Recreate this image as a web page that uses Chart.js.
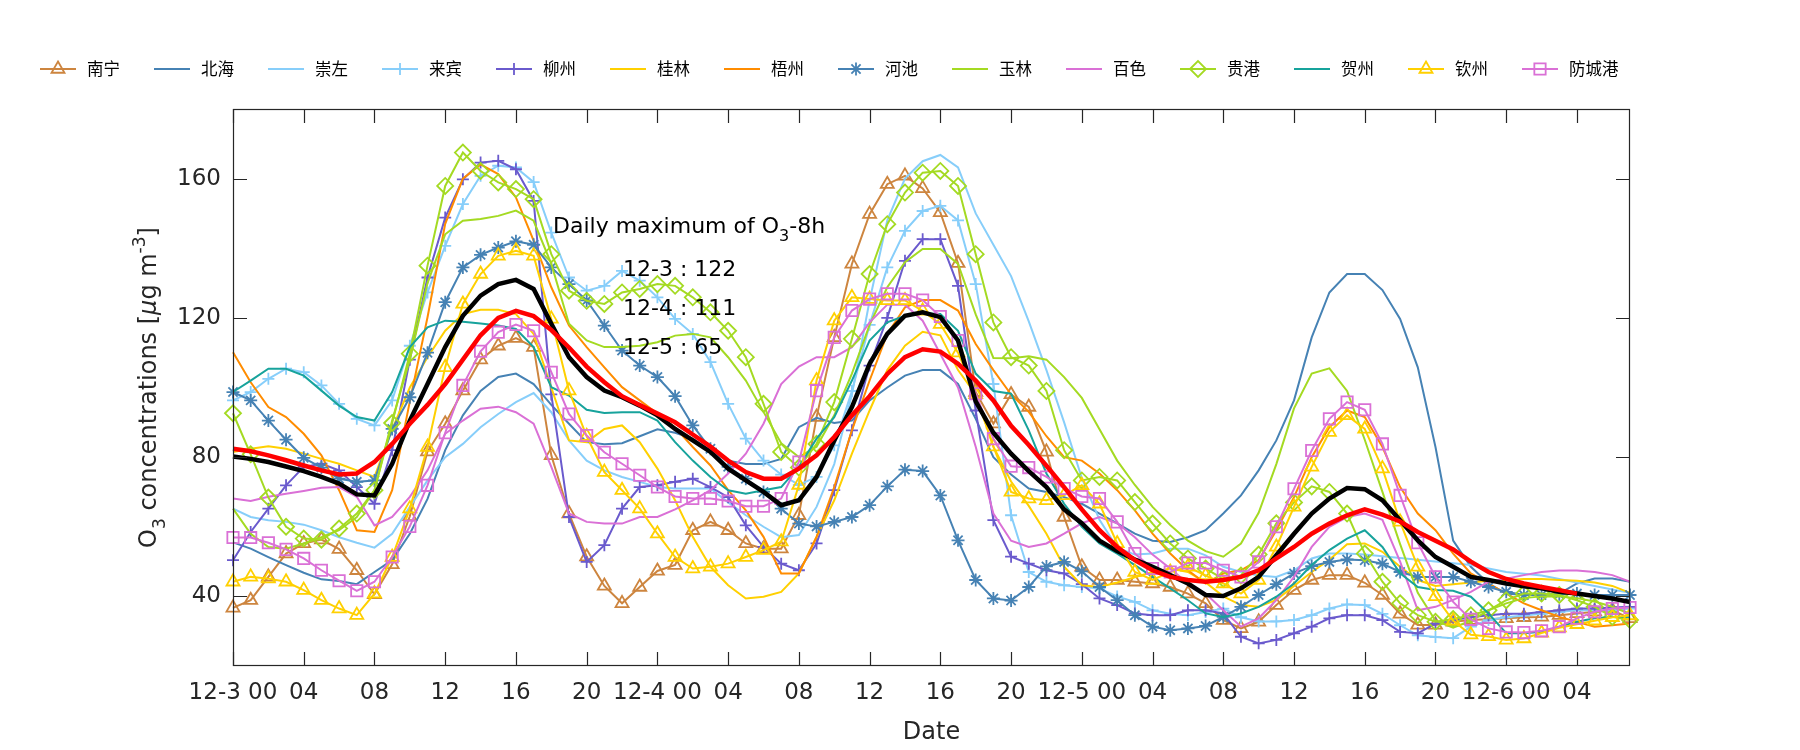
<!DOCTYPE html>
<html><head><meta charset="utf-8">
<script src="https://cdn.jsdelivr.net/npm/chart.js"></script>
<style>html,body{margin:0;padding:0;background:#fff;}#wrap{width:1800px;height:750px;}</style>
</head><body><div id="wrap"><canvas id="c" width="1800" height="750"></canvas></div>
<script>
const hours = [0,1,2,3,4,5,6,7,8,9,10,11,12,13,14,15,16,17,18,19,20,21,22,23,24,25,26,27,28,29,30,31,32,33,34,35,36,37,38,39,40,41,42,43,44,45,46,47,48,49,50,51,52,53,54,55,56,57,58,59,60,61,62,63,64,65,66,67,68,69,70,71,72,73,74,75,76,77,78,79];
const tickHours = [0,4,8,12,16,20,24,28,32,36,40,44,48,52,56,60,64,68,72,76];
const tickLabels = ['12-3 00','04','08','12','16','20','12-4 00','04','08','12','16','20','12-5 00','04','08','12','16','20','12-6 00','04'];
const yTicks = [40,80,120,160];
const stations = ['南宁','北海','崇左','来宾','柳州','桂林','梧州','河池','玉林','百色','贵港','贺州','钦州','防城港'];

const nanning = [36.7,38.9,45.6,52.3,55.2,56.3,53.6,47.5,40.6,49.2,63,81.6,89.6,99.1,108,112,114.2,111.6,80.5,63.8,51.4,43,38,42.7,47.3,49,59,61.4,59,55.2,53.7,53.7,63.3,91.5,114.4,135.5,149.8,158.4,160.8,157.2,150.3,135.7,98.7,89.6,98,94.4,81.5,62.8,48.5,44.7,44.7,44.2,43.7,42.7,40.8,38,33.2,30.8,32.7,37.5,41.8,44.7,46.1,46.1,43.9,40.4,35,31.8,31.8,32.7,33.2,33.4,33.7,34,34.1,34.6,35.1,35.6,36,33.7];
const beihai = [55.5,53.7,51.3,49,46.8,44.9,44.4,43.5,47,50.4,58,68,82,92,99,103,104,101,95,89.6,84.3,83.7,84,86,88,87,85.3,82,79,78,78,79.5,88.6,91.3,89.8,90.5,96.3,100,103.4,105,105,101,91,80,75,71,70,68.5,66.6,63.8,61,58,56,55.6,57,59,63.8,69,76.2,84.8,96.3,114.4,127.3,132.6,132.6,128,119.7,105.8,82.9,56,48.5,43.7,40.8,40.4,40.4,40.8,43.7,45.1,45.1,44.2];
const chongzuo = [65.2,62.8,61.9,61.4,60.6,59,57,55.4,54,58,65.7,73.3,80,83.8,88.6,92.4,95.8,98.4,92.9,84.8,79,76.2,74.3,72.9,71.4,71,71,71,67,63.3,60,57,57.6,65.7,78,98,125,148,160,165,166.8,163.2,150,141,132,119,105,90,74,62,54,52,52.3,53.7,53.7,51.8,48.5,47,46,45.6,47.5,50.9,52.3,52.3,52,51.5,51,50.5,50,49.5,49,48,47,46.5,46,45,44,43,42,41];
const laibin = [96.3,98.7,102.5,105.4,104.4,100.6,95.3,91,89.1,96.3,112,127.3,140.7,152.7,160.8,163.7,163.2,159,144.5,131.6,127.8,129.2,133.5,130.7,125.9,119.7,115.4,107.3,95.3,85.3,79,75,72,74.3,83.4,99,118,134.5,145,150.7,152.2,148,129.7,101,63.3,47,44.2,43.2,42.7,42.3,40,38.4,36,35,34.6,35.5,36.5,34,32.8,32.8,33.2,34.6,36.5,37.7,37.5,35,31.7,28.8,28.3,28,31.3,33.2,34,34.5,35,35.5,36,36,36,36.5];
const liuzhou = [50.4,58.5,65.2,71.9,77.2,78.1,76.2,71.4,66.6,82,108,131.6,148.8,159.8,164.6,165.1,162.7,153.6,98,62.8,49.9,54.7,65.2,71.4,71.9,72.9,73.8,71.4,68.5,60.4,54.2,49.4,47.5,55.2,70.5,87.7,106.3,120,136.4,142.6,142.6,129.2,93.4,61.9,51.4,49.4,47.5,46.6,43.5,39.4,37.5,35.1,34.6,34.6,36,36,35.1,28.4,26.5,27.5,29.4,31.3,33.7,34.6,34.6,33.2,29.8,29.4,32.2,33.2,34,34.6,35,35,35.5,36,36.5,36.5,36.8,37];
const guilin = [81.5,82.4,83.1,82.4,81,79.5,78.1,76.2,74.3,88,100,108.7,116.3,121.1,122.3,122.3,121.1,115.4,100,84.8,84.3,88.1,89.1,84.3,76.7,67.6,57.1,48.5,43.2,39.4,39.9,41.3,46.6,57.1,67.6,81,93.4,105,112,116,115,105,98,83,73,66,58,48.5,43.2,42.7,44,45.5,47,48,47,44,40,37.5,37,39,43,47,50.5,55,55.2,52.8,48.5,44.7,43,43.5,44,44.5,44.7,45,45,44.7,44.5,44,43,41];
const wuzhou = [110.1,101.5,94.4,91.5,86.7,80.5,70.5,59,58.5,70.5,96,120.2,147,160,164.1,161.3,154.6,142.2,128.8,117.8,111.6,105.8,100.1,96.3,92.5,88.5,82.9,77.6,70.5,64.7,57.1,46.6,46.6,57.1,71.4,87.7,102,115.4,123,125.1,125.1,122.1,112.5,105,98,93,86,80,79,75.3,70.5,64.7,58,52.3,47.5,43.7,46.6,47.5,50.4,59,68.5,80,88.6,93.4,91.5,82.9,71.4,63.8,59,52.3,46.6,43.7,40.8,38,36,34.1,32.7,31.3,31.7,32.2];
const hechi = [98.7,96.3,90.5,85,79.8,77,73.8,72.9,73.3,88.1,97.2,110,124.5,134.5,138.1,140.2,142,141,134.5,129.7,125,117.8,110.6,106.3,103,97.5,89.1,82.4,77.2,73.8,70,65.2,60.9,60.1,61.4,62.8,66.2,71.6,76.4,76,69,56.1,44.7,39.4,38.8,42.7,48.6,49.9,47.2,42.7,38.9,34.6,31.3,30.3,30.8,31.5,34.1,37,40.4,43.5,46.6,48.7,49.9,50.6,50.4,49.4,47,45.6,45.6,45.6,44.2,42.7,41.3,40.4,40.4,40.6,40.8,40.4,40.4,40.4];
const yulin = [65.2,58,54.2,53.7,55.2,57,59,62.8,70.5,90.5,108,130,144,147.9,148.4,149.3,150.8,147.9,135.5,118.3,113.5,111.6,111.6,112,113,114.9,115.4,114.4,108.7,102,93,84,80,83,92,104,118,128.8,136,139.8,139.8,135.5,121,108.5,108.4,109,108,103,97,88,79,72,65.7,60.5,56,53,51.4,55.2,64,78,94,104,105.5,99,85,70,55,41,33,31,33,36,38,39.5,40,40,39.5,38.5,37,35];
const baise = [68.1,67.4,68.6,69.5,70.3,71.2,71.4,68.6,60.4,62.8,68.6,76.2,86.7,90.5,93.9,94.5,92.9,89.6,77.2,63.8,61.4,60.9,60.9,62.8,62.8,65,67.6,70.5,75.3,81,89.6,101,106,108.7,108.7,111.6,118.7,123.8,123.8,119.2,109.6,100,83,63.8,56,54.2,55.2,58,61,62.8,61,57,52,48,43.7,40.8,36,31.3,33.7,38.9,45.6,54.2,60,62.8,63.8,62,50,36,37,39,41.3,44.2,45.1,46.1,47,47.4,47.4,47,46.1,44.2];
const guigang = [92.6,80.8,68.4,60,56.6,56.3,59.5,63.8,70.5,89.8,109.7,135,157.9,167.5,162.2,158.9,157,154.1,138.3,127.8,124.9,124,127.3,128.3,129.7,129.2,125.9,121.6,116.3,108.7,95.3,81.5,77,83.8,95.8,114,132.6,146.9,156,161.7,162.2,157.9,138.3,118.7,108.7,106.3,99,82,73.3,74.3,73.3,67.1,60.9,55.2,50.9,48,45,46,52,61,67,71.6,70,63.8,52.3,44.2,38,34.6,32.7,33.5,34.6,36,38.9,40.8,40.8,40.4,38.9,37,34.1,33.2];
const hezhou = [98.7,102,105.4,105.4,103.4,99.1,94.8,91.5,90.5,98.7,111.6,117.3,119.2,118.9,118.4,117.8,116.8,111.6,100.1,97.7,93.6,92.7,92.9,92.9,90.5,84.3,79,74.3,70.5,69.5,70.5,71.4,77.2,85.3,91.5,102,113.5,118.7,120.6,121.3,121.1,116.3,104,99,98.2,87.7,75.3,66.6,60,55.2,52.3,49,45.6,42.3,38.9,35.1,34.1,35.1,37,39.9,43.7,49,53.3,56.6,59,54.2,46.6,42.7,41.8,41.6,39.9,35.1,29.4,29.4,29.8,31.3,32.7,33.7,34.1,34.1];
const qinzhou = [44.2,45.6,45.1,44.2,41.8,38.9,36.5,34.6,40.8,51.3,65.2,82.9,105.8,124,132.6,137.8,139.3,137.8,119.7,99.1,86,75.7,70.5,65.2,58,51.3,48,48.5,49.4,51.3,53.3,55.7,72,102,119.2,125.9,125.4,125,125,122,118.2,110,98,83,70,68.1,67.6,69,71.9,66.6,55.2,47,44.7,47,48.5,46,43.7,40.8,44.7,54.2,65.7,77.2,87.2,92,88.1,76.7,61.4,48.5,40,33,29,28.5,27.5,27.9,29.5,31,32,33,34,34.5];
const fangchenggang = [56.9,56.9,55.4,53.5,50.9,47.5,44.5,41.6,44.2,51.3,60.1,71.9,87,100.6,110.4,115.9,118.1,116.3,104.4,92.4,86.2,81.4,78.1,74.8,71.4,68.7,68.1,68.1,67.4,65.9,65.9,68.1,78.6,99.1,114.4,122.1,125.4,126.9,126.9,125.1,120.4,113.5,98.2,85.3,77.4,77,74.3,71,68.7,68.1,61.4,52.3,48,47,49.6,49.6,47.5,45.6,49.9,60,70.9,81.9,91,95.8,93.6,83.8,69,55.4,45.6,38.4,33.4,30.8,29.8,29.6,30.1,31.3,33.7,35.6,36.5,36.8];
const hourlyMean = [80.2,79.5,78.6,77.3,76,74.3,72.4,69.3,69,78.1,90.5,101,111.6,120.6,126.4,129.7,130.9,128.3,118.3,108.7,103,99.1,97.2,94.8,92,88.1,84.8,81.5,76.7,73.3,70,66.2,67.6,74.3,84.8,94.4,106.8,115.4,120.6,121.6,120.2,113.5,96,87,81,76,71.4,65,61,56,53,50.6,48.5,46.1,43.7,40.4,40.1,42.3,45.6,51.8,58,63.8,68.1,71.1,70.8,67.6,61.9,56.1,51.3,48.5,45.6,44.7,43.7,42.9,42.3,41.3,40.8,40.1,39.4,38.4];
const o3_8h = [82.4,81.7,80.5,79.1,77.6,76.2,75,75.3,78.6,83.8,89.6,95,101,108,115,120,122,120.5,116.5,111.5,106,101.5,97.5,95,92.5,90,86.5,83,79,75.7,73.8,73.8,76.7,80.5,85.8,92,97.5,103.9,108.7,111,110.3,106.8,102,96.3,89,83.5,77.5,71.4,65,59,54.2,50.4,47.5,45.6,44.7,44.2,44.7,45.6,47.5,50.9,54.2,58,60.9,63.3,65,63.5,61.5,58.5,56,53.5,50,47,45,43.7,42.7,41.8,40.8,null,null,null];
const dailyMaxLines = ['12-3 : 122','12-4 : 111','12-5 : 65'];

const seriesData = [nanning,beihai,chongzuo,laibin,liuzhou,guilin,wuzhou,hechi,yulin,baise,guigang,hezhou,qinzhou,fangchenggang];
const colors = ['#CD853F','#4682B4','#87CEFA','#87CEFA','#6A5ACD','#FFD000','#FF8C00','#4682B4','#A4DA22','#DA70D6','#A4DA22','#17A39C','#FFD000','#DA70D6'];
const markers = ['triangle',null,null,'cross','cross',null,null,'star',null,null,'rectRot',null,'triangle','rect'];
const markerR = {triangle:7.5, cross:6, star:6.5, rectRot:8, rect:8};
const FONT = 'DejaVu Sans';

const datasets = stations.map((name,i)=>({
  label:name, data:seriesData[i], borderColor:colors[i], backgroundColor:colors[i],
  borderWidth:2, tension:0, fill:false, clip:false, order:30-i,
  pointStyle:markers[i]||'circle', pointRadius:markers[i]?markerR[markers[i]]:0,
  pointBorderWidth:1.8, pointBorderColor:colors[i], pointBackgroundColor:'rgba(0,0,0,0)',
  pointHoverRadius:markers[i]?markerR[markers[i]]:0
}));
datasets.push({label:'hourly mean', data:hourlyMean, borderColor:'#000000', borderWidth:4.5, pointRadius:0, tension:0, fill:false, clip:false, order:1});
datasets.push({label:'O3-8h', data:o3_8h, borderColor:'#FF0000', borderWidth:4.5, pointRadius:0, tension:0, fill:false, clip:false, order:0});

function drawPieces(ctx, pieces, x, y, align){
  let total=0;
  pieces.forEach(p=>{ctx.font=p.f; p.w=ctx.measureText(p.t).width; total+=p.w;});
  let cx = align==='center' ? x-total/2 : x;
  pieces.forEach(p=>{ctx.font=p.f; ctx.fillText(p.t, cx, y+(p.dy||0)); cx+=p.w;});
}

const framePlugin = {
  id:'frame',
  afterDraw(chart){
    const {ctx, chartArea:a, scales:{x,y}} = chart;
    ctx.save();
    ctx.strokeStyle='#262626'; ctx.lineWidth=1.2;
    ctx.strokeRect(a.left+0.5, a.top+0.5, a.right-a.left-1, a.bottom-a.top-1);
    const L=14;
    ctx.beginPath();
    tickHours.forEach(v=>{const px=Math.round(x.getPixelForValue(v))+0.5; ctx.moveTo(px,a.bottom); ctx.lineTo(px,a.bottom-L); ctx.moveTo(px,a.top); ctx.lineTo(px,a.top+L);});
    yTicks.forEach(v=>{const py=Math.round(y.getPixelForValue(v))+0.5; ctx.moveTo(a.left,py); ctx.lineTo(a.left+L,py); ctx.moveTo(a.right,py); ctx.lineTo(a.right-L,py);});
    ctx.stroke();

    // legend
    const ly=69;
    stations.forEach((name,i)=>{
      const x0=40+i*114;
      ctx.strokeStyle=colors[i]; ctx.lineWidth=2;
      ctx.beginPath(); ctx.moveTo(x0,ly); ctx.lineTo(x0+36,ly); ctx.stroke();
      if(markers[i]){
        ctx.fillStyle='rgba(0,0,0,0)'; ctx.lineWidth=1.8; ctx.strokeStyle=colors[i];
        Chart.helpers.drawPoint(ctx,{pointStyle:markers[i],radius:markerR[markers[i]],rotation:0,borderWidth:1.8},x0+18,ly);
      }
      ctx.fillStyle='#000'; ctx.font='16.5px "Noto Sans CJK SC"'; ctx.textBaseline='middle'; ctx.textAlign='left';
      ctx.fillText(name, x0+47, ly);
    });

    // annotation
    ctx.fillStyle='#000'; ctx.textBaseline='alphabetic'; ctx.textAlign='left';
    drawPieces(ctx,[{t:'Daily maximum of O',f:'22px "'+FONT+'"'},{t:'3',f:'16px "'+FONT+'"',dy:8},{t:'-8h',f:'22px "'+FONT+'"'}],553,233,'left');
    ctx.font='22px "'+FONT+'"'; ctx.textBaseline='middle';
    dailyMaxLines.forEach((s,i)=>ctx.fillText(s, 623, 270+i*39));

    // y title
    ctx.save();
    ctx.translate(148,(a.top+a.bottom)/2); ctx.rotate(-Math.PI/2);
    ctx.fillStyle='#262626'; ctx.textBaseline='alphabetic';
    drawPieces(ctx,[{t:'O',f:'24px "'+FONT+'"'},{t:'3',f:'17px "'+FONT+'"',dy:9},{t:' concentrations [',f:'24px "'+FONT+'"'},{t:'μ',f:'italic 24px "'+FONT+'"'},{t:'g m',f:'24px "'+FONT+'"'},{t:'-3',f:'17px "'+FONT+'"',dy:-11},{t:']',f:'24px "'+FONT+'"'}],0,8,'center');
    ctx.restore();
    ctx.restore();
  }
};

new Chart(document.getElementById('c'),{
  type:'line',
  data:{labels:hours, datasets},
  options:{
    responsive:false, animation:false, devicePixelRatio:1,
    layout:{padding:{left:0,right:170,top:109,bottom:0}},
    plugins:{legend:{display:false}, tooltip:{enabled:false}, title:{display:false}},
    scales:{
      x:{type:'linear', min:0, max:79,
        afterBuildTicks:(s)=>{s.ticks=tickHours.map(v=>({value:v}));},
        afterFit:(s)=>{s.height=84;},
        ticks:{autoSkip:false, maxRotation:0, minRotation:0, padding:13, color:'#262626', font:{family:FONT,size:23},
          callback:(v,i)=>tickLabels[i]},
        grid:{display:false, drawTicks:false}, border:{display:false},
        title:{display:true, text:'Date', color:'#262626', font:{family:FONT,size:24}, padding:{top:0,bottom:3}}
      },
      y:{min:20, max:180,
        afterBuildTicks:(s)=>{s.ticks=yTicks.map(v=>({value:v}));},
        afterFit:(s)=>{s.width=233;},
        ticks:{padding:12, color:'#262626', font:{family:FONT,size:23}},
        grid:{display:false, drawTicks:false}, border:{display:false}
      }
    }
  },
  plugins:[framePlugin]
});
</script></body></html>
